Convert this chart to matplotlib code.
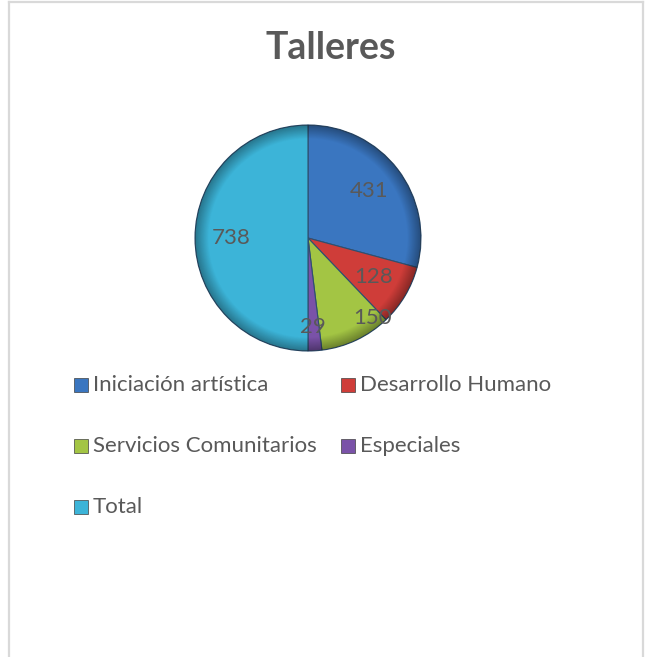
import matplotlib
matplotlib.use("Agg")
import numpy as np
import matplotlib.pyplot as plt
from matplotlib.patches import Rectangle, Circle
from matplotlib.lines import Line2D

plt.rcParams['font.family'] = ['Lato', 'DejaVu Sans']

# data
categories = ["Iniciación artística", "Desarrollo Humano", "Servicios Comunitarios",
              "Especiales", "Total"]
values = [431, 128, 150, 29, 738]
colors = ["#3A76C0", "#CF3D39", "#A3C544", "#7A52A8", "#3CB4D8"]
# label radius / angle nudges (Excel moves the crowded small ones)
label_pos = {2: (0.57, -0.71), 3: (0.04, -0.79)}

text_color = "#595959"

fig = plt.figure(figsize=(6.5, 6.57), dpi=100)
W, H = 650, 657

# chart frame
frame_col = "#D9D9D9"
for xs, ys in [((9, 9), (2, 657)), ((9, 643), (2, 2)), ((643, 643), (2, 657))]:
    fig.add_artist(Line2D([x / W for x in xs], [1 - y / H for y in ys],
                          color=frame_col, lw=1.6))

fig.text(331 / W, 1 - 48 / H, "Talleres", ha="center", va="center",
         fontsize=27, fontweight="bold", color=text_color)

# pie
cx, cy, r = 308, 238, 113
ax = fig.add_axes([(cx - r) / W, 1 - (cy + r) / H, 2 * r / W, 2 * r / H])
wedges, _, autotexts = ax.pie(values, colors=colors, startangle=90, counterclock=False,
                              autopct=lambda p: "%d" % round(p * sum(values) / 100),
                              pctdistance=0.68,
                              wedgeprops=dict(edgecolor="#2F4F6F", linewidth=0.8),
                              textprops=dict(fontsize=16, color=text_color, zorder=5))
for i, (x, y) in label_pos.items():
    autotexts[i].set_position((x, y))

# darker rim, like the Excel bevel
g = np.linspace(-1, 1, 300)
xx, yy = np.meshgrid(g, g)
rr = np.hypot(xx, yy)
shade = np.zeros((300, 300, 4))
shade[..., 3] = np.clip((rr - 0.88) / 0.12, 0, 1) * 0.35
im = ax.imshow(shade, extent=(-1, 1, -1, 1), zorder=3)
im.set_clip_path(Circle((0, 0), 1, transform=ax.transData))

ax.set_xlim(-1.0, 1.0)
ax.set_ylim(-1.0, 1.0)
ax.set_aspect("equal")
ax.axis("off")

# legend, two columns filled row by row
x_cols = [74, 341]
y_rows = [385, 446, 507]
sq = 14
for i, (name, col) in enumerate(zip(categories, colors)):
    x = x_cols[i % 2]
    y = y_rows[i // 2]
    fig.add_artist(Rectangle((x / W, 1 - (y + sq / 2) / H), sq / W, sq / H,
                             facecolor=col, edgecolor="#404040", linewidth=0.5,
                             transform=fig.transFigure))
    fig.text((x + sq + 5) / W, 1 - y / H, name, ha="left", va="center",
             fontsize=16, color=text_color)

fig.savefig("out.png", dpi=100, facecolor="white")
